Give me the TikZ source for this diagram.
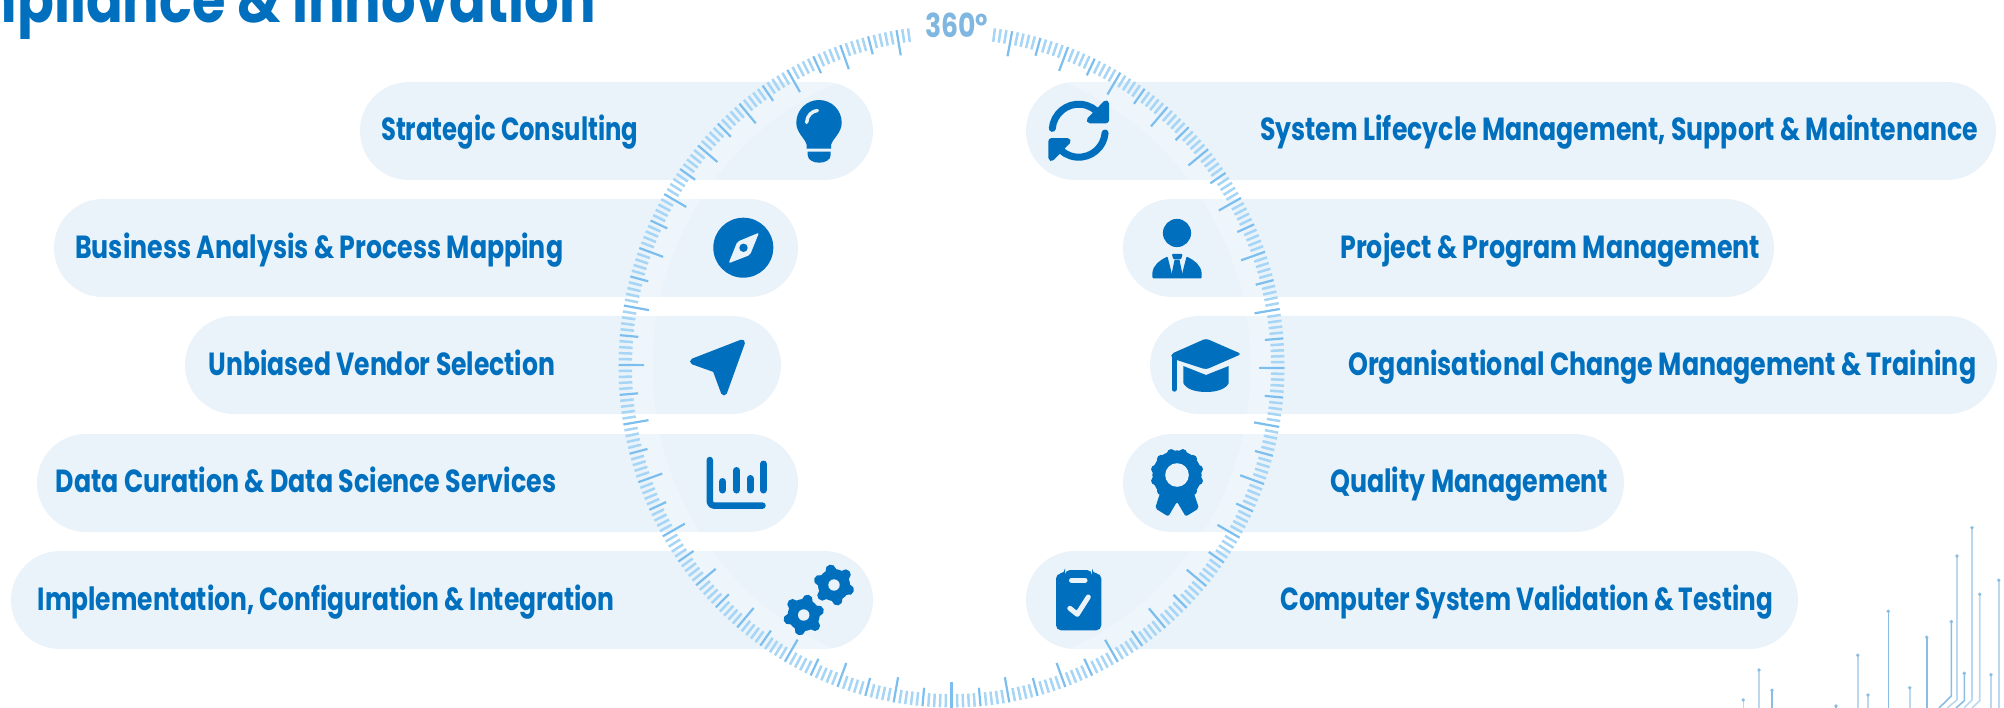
\documentclass[tikz,border=0pt]{standalone}
\usepackage{fontspec}
\setmainfont{Poppins}
\definecolor{brand}{HTML}{0070BE}
\definecolor{pillc}{HTML}{EAF3FA}
\definecolor{tickminor}{HTML}{A6D5F5}
\definecolor{tickmajor}{HTML}{7CBFEF}
\definecolor{labelc}{HTML}{7FB7E1}
\definecolor{circa}{HTML}{8ABDE3}
\definecolor{circb}{HTML}{BBD8EF}
\newcommand\lbl[2]{\resizebox{#1pt}{\height}{#2}}
\tikzset{
  x=1pt,y=-1pt,
  pill/.style={fill=pillc,draw=none,rounded corners=48.9pt,minimum height=98pt,inner sep=0pt},
  txt/.style={anchor=base west,inner sep=0pt,text=brand,font=\fontsize{32}{32}\selectfont\bfseries},
  cut/.style={draw=pillc,line cap=round,line join=round},
  circdot/.style={fill=circa,draw=none},
}
\newcommand\pillat[5]{\node[pill,minimum width=#4pt] (#1) at ({(#2+#3)/2},#5) {};}
\newcommand\geara[3]{%
  \foreach \g in {0,60,...,300}{\draw[brand,line width=10.5pt,line cap=round] (#1,#2) ++({#3+\g}:10) -- ++({#3+\g}:5.5);}
  \fill[brand] (#1,#2) circle (16);
  \fill[pillc] (#1,#2) circle (5.7);}
\newcommand\wire[3]{\draw[#1,line width=1.6pt] (#2,#3) -- (#2,708); \fill[circdot] (#2,#3) circle (1.9);}
\newcommand\wirebent[5]{\draw[#1,line width=1.6pt] (#2,#3) -- (#2,#4) -- (#5,708); \fill[circdot] (#2,#3) circle (1.9);}
\begin{document}
\begin{tikzpicture}
\useasboundingbox (0,0) rectangle (2004,708);
\begin{scope}
\clip (0,0) rectangle (2004,708);
% pills
\pillat{pa}{360}{873}{513}{131}
\pillat{pb}{54}{798}{744}{248}
\pillat{pc}{185}{781}{596}{365}
\pillat{pd}{37}{798}{761}{483}
\pillat{pe}{11}{873}{862}{600}
\pillat{qa}{1026}{1996}{970}{131}
\pillat{qb}{1123}{1774}{651}{248}
\pillat{qc}{1150}{1997}{847}{365}
\pillat{qd}{1123}{1624}{501}{483}
\pillat{qe}{1026}{1798}{772}{600}
% ruler haze and ticks
\draw[white,opacity=.25,line width=22pt] (951.5,366.5) ellipse (310 and 318);
\foreach \k in {7,...,352}{
  \pgfmathsetmacro\t{\k+0.5*cos(\k/2)*cos(\k/2)-90}
  \pgfmathtruncatemacro\mten{mod(\k,10)}
  \pgfmathtruncatemacro\mfive{mod(\k,5)}
  \ifnum\mten=0
    \def\L{25.5}\def\W{2.2pt}\def\C{tickmajor}
  \else\ifnum\mfive=0
    \def\L{18.5}\def\W{2.2pt}\def\C{tickmajor}
  \else
    \def\L{13.5}\def\W{2.5pt}\def\C{tickminor}
  \fi\fi
  \draw[\C,line width=\W] ({951.5+333*cos(\t)},{366.5+341*sin(\t)}) -- ({951.5+(333-\L)*cos(\t)},{366.5+(341-\L)*sin(\t)});
}
% circuit lines
\wire{circb}{1743.3}{700}
\wire{circb}{1759}{670}
\wire{circa}{1772}{690.3}
\wire{circa}{1836}{706}
\wire{circb}{1857.7}{655.3}
\wire{circb}{1868}{695}
\wire{circa}{1888.3}{611.3}
\wire{circb}{1909.7}{687.7}
\wire{circa}{1926.7}{637.3}
\wirebent{circa}{1951.3}{621.7}{696}{1939}
\wirebent{circb}{1957}{556}{700}{1947}
\wirebent{circa}{1964.3}{673.3}{700.7}{1956}
\wirebent{circb}{1972}{527.7}{700}{1964}
\wirebent{circb}{1979.7}{594.3}{700.7}{1972}
\wire{circb}{1991}{674.7}
\wire{circb}{1998.7}{580.3}
% title
\node[anchor=base east,inner sep=0pt,text=brand,font=\fontsize{64}{64}\selectfont\bfseries] (title) at (596,22.7) {\lbl{636}{mpliance \& Innovation}};
\node[anchor=base west,inner sep=0pt,text=labelc,font=\fontsize{33}{33}\selectfont\bfseries] (deg) at (925,37.3) {\lbl{63}{360°}};
% labels
\node[txt] (ta) at (381,140.5) {\lbl{257}{Strategic Consulting}};
\node[txt] (tb) at (75,258.2) {\lbl{488}{Business Analysis \& Process Mapping}};
\node[txt] (tc) at (208.5,375.5) {\lbl{346.5}{Unbiased Vendor Selection}};
\node[txt] (td) at (55.5,492.5) {\lbl{500.5}{Data Curation \& Data Science Services}};
\node[txt] (te) at (37.6,610.5) {\lbl{576.4}{Implementation, Configuration \& Integration}};
\node[txt] (ua) at (1260,140.5) {\lbl{718}{System Lifecycle Management, Support \& Maintenance}};
\node[txt] (ub) at (1340,258.2) {\lbl{420}{Project \& Program Management}};
\node[txt] (uc) at (1348,375.5) {\lbl{628}{Organisational Change Management \& Training}};
\node[txt] (ud) at (1330,492.5) {\lbl{278}{Quality Management}};
\node[txt] (ue) at (1280,610) {\lbl{493}{Computer System Validation \& Testing}};
% bulb
\fill[brand] (806.7,148.7) -- (806.7,145) .. controls (805,138) and (796.3,133) .. (796.3,122.7) .. controls (796.3,110) and (806.5,100) .. (819,100) .. controls (831.5,100) and (841.7,110) .. (841.7,122.7) .. controls (841.7,133) and (833,138) .. (831,145) -- (831,148.7) -- cycle;
\fill[brand] (807.7,151.7) -- (830.7,151.7) -- (830.7,155) .. controls (830.7,160) and (825,162.7) .. (819.2,162.7) .. controls (813.4,162.7) and (807.7,160) .. (807.7,155) -- cycle;
\draw[cut,line width=3.4pt] (806.6,122.5) .. controls (807,115.5) and (812,111) .. (817.5,110.5);
% compass
\fill[brand] (743.3,247.7) circle (30);
\fill[pillc,rounded corners=2pt] (759,232.7) -- (750,255) -- (728.6,263.3) -- (737.3,241.7) -- cycle;
\fill[brand] (743.5,247.8) circle (4.2);
% send arrow
\fill[brand,draw=brand,line width=6pt,line join=round] (742,342.5) -- (693,361.5) -- (715.5,369.5) -- (724,392.5) -- cycle;
% chart
\draw[brand,line width=6.5pt,line cap=round,line join=round,rounded corners=4pt] (709.8,460) -- (709.8,505.6) -- (762.5,505.6);
\draw[brand,line width=7pt,line cap=round] (722.5,481.5) -- (722.5,490);
\draw[brand,line width=7pt,line cap=round] (736.6,470.5) -- (736.6,490);
\draw[brand,line width=7pt,line cap=round] (750,478.5) -- (750,490);
\draw[brand,line width=7pt,line cap=round] (763.4,464) -- (763.4,490);
% gears
\geara{834}{585}{18}
\geara{803.7}{615}{-16}
% sync
\draw[brand,line width=7pt,line cap=round] (1078.7,130.7) ++(-175:26.5) arc (-175:-35:26.5);
\fill[brand,draw=brand,line width=6pt,line join=round] (1106,103.3) -- (1106,120.3) -- (1089.7,120.3) -- cycle;
\draw[brand,line width=7pt,line cap=round] (1078.7,130.7) ++(5:26.5) arc (5:145:26.5);
\fill[brand,draw=brand,line width=6pt,line join=round] (1051.4,158.1) -- (1051.4,141.1) -- (1067.7,141.1) -- cycle;
% person
\fill[brand] (1177,233) circle (14.1);
\fill[brand,rounded corners=1pt] (1152.3,278.3) -- (1152.3,274) .. controls (1153,265) and (1160,260) .. (1167.5,256.5) -- (1173,278.3) -- cycle;
\fill[brand,rounded corners=1pt] (1201.7,278.3) -- (1201.7,274) .. controls (1201,265) and (1194,260) .. (1186.5,256.5) -- (1181,278.3) -- cycle;
\fill[brand,rounded corners=1pt] (1171.7,254) -- (1182.7,254) -- (1181,259.3) -- (1173.4,259.3) -- cycle;
\fill[brand] (1174.5,260) -- (1179.5,260) -- (1182,272) -- (1182,278.3) -- (1172,278.3) -- (1172,272) -- cycle;
% cap
\fill[brand,rounded corners=3pt] (1206,338.5) -- (1241.5,354) -- (1206,369.5) -- (1176.7,360) -- (1172,358) -- (1171,354) -- cycle;
\draw[brand,line width=5pt,line cap=round] (1174.2,356) -- (1174.2,389.2);
\fill[brand] (1183.3,366) -- (1206,375) -- (1228.7,366) -- (1228.7,383) .. controls (1226,389) and (1217,392) .. (1206,392) .. controls (1195,392) and (1186,389) .. (1183.3,383) -- cycle;
% badge
\fill[brand,rounded corners=2pt] (1161.7,488) -- (1192.3,488) -- (1198.9,508.3) -- (1185.7,516.5) -- (1177,501.7) -- (1168.3,516.5) -- (1155.1,508.3) -- cycle;
\foreach \b in {15,45,...,345}{\fill[brand] (1177,475) ++(\b:22.5) circle (4.2);}
\fill[brand] (1177,475) circle (24.6);
\fill[pillc] (1177,475) circle (11.8);
% clipboard
\fill[brand,rounded corners=5pt] (1056,573.5) -- (1065,573.5) -- (1065,570) -- (1092,570) -- (1092,573.5) -- (1101.3,573.5) -- (1101.3,630.3) -- (1056,630.3) -- cycle;
\draw[cut,line width=5pt] (1071.5,580.2) -- (1085,580.2);
\draw[cut,line width=5pt] (1069.8,608.3) -- (1077.3,614.3) -- (1088.3,597);
\end{scope}
\end{tikzpicture}
\end{document}
